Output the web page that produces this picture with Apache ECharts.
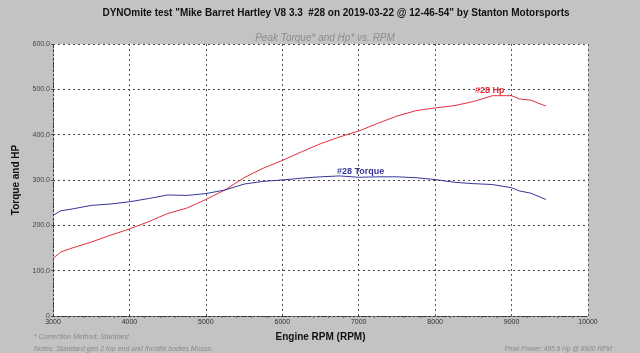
<!DOCTYPE html>
<html>
<head>
<meta charset="utf-8">
<script src="https://cdn.jsdelivr.net/npm/echarts@6/dist/echarts.min.js"></script>
<style>
    html, body { margin: 0; padding: 0; }
    #dyno { width: 640px; height: 353px; }
</style>
</head>
<body>
<div id="dyno"></div>
<script>
    // engine speed samples (RPM)
    var rpm = [3000, 3100, 3250, 3500, 3750, 4000, 4250, 4500, 4750, 5000, 5250, 5500, 5750, 6000, 6250,
        6500, 6750, 7000, 7250, 7500, 7750, 8000, 8250, 8500, 8750, 9000, 9100, 9250, 9450];
    // #28 Hp
    var hp = [127, 141, 150, 163, 178, 192, 208, 226, 238, 257, 278, 305, 326, 343, 362,
        380, 395, 408, 425, 441, 453, 459, 464, 473, 486, 486, 479, 476, 463];
    // #28 Torque
    var torque = [222, 232, 236, 244, 247, 252, 259, 267, 266, 270, 278, 291, 297, 300, 304,
        307, 309, 306, 307, 307, 305, 301, 295, 292, 290, 283, 276, 271, 257];
    var yTicks = [0, 100, 200, 300, 400, 500, 600];
    var xTicks = [3000, 4000, 5000, 6000, 7000, 8000, 9000, 10000];

    function pairs(ys) {
        return rpm.map(function (r, i) { return [r, ys[i]]; });
    }

    var chart = echarts.init(document.getElementById('dyno'));
    var font = 'Liberation Sans, Arial, sans-serif';
    var option = {
        backgroundColor: '#c3c3c3',
        animation: false,
        title: [{
            text: 'DYNOmite test "Mike Barret Hartley V8 3.3  #28 on 2019-03-22 @ 12-46-54" by Stanton Motorsports',
            left: 331, top: 3, textAlign: 'center',
            textStyle: { fontFamily: font, fontSize: 10, fontWeight: 'bold', color: '#111' }
        }, {
            text: 'Peak Torque* and Hp* vs. RPM',
            left: 320, top: 28, textAlign: 'center',
            textStyle: { fontFamily: font, fontSize: 10, fontStyle: 'italic', fontWeight: 'normal', color: '#8e8e8e' }
        }],
        graphic: [{
            type: 'text', left: 34, top: 334,
            style: { text: '* Correction Method: Standard', font: 'italic 7px ' + font, fill: '#8a8a8a' }
        }, {
            type: 'text', left: 34, top: 346,
            style: { text: 'Notes: Standard gen 2 top end and throttle bodies Mosso.', font: 'italic 7px ' + font, fill: '#8a8a8a' }
        }, {
            type: 'text', right: 28, top: 346,
            style: { text: 'Peak Power: 485.9 Hp @ 8900 RPM', font: 'italic 6.6px ' + font, fill: '#8a8a8a' }
        }],
        grid: {
            left: 53, right: 52, top: 44, bottom: 37,
            show: true, backgroundColor: '#fff', borderWidth: 0
        },
        xAxis: {
            type: 'value', min: 3000, max: 10000, interval: 1000,
            name: 'Engine RPM (RPM)', nameLocation: 'middle', nameGap: 16,
            nameTextStyle: { fontFamily: font, fontSize: 10, fontWeight: 'bold', color: '#111' },
            axisLine: { lineStyle: { color: '#333', type: [2, 2], width: 1 } },
            axisTick: { show: false },
            minorTick: { show: true, splitNumber: 5, length: 2, lineStyle: { color: '#666' } },
            axisLabel: {
                fontFamily: font, fontSize: 7, color: '#333', margin: 3,
                formatter: function (v) { return xTicks.indexOf(v) >= 0 ? String(v) : ''; }
            },
            splitLine: { show: true, lineStyle: { color: '#555', type: [2, 3], width: 1 } }
        },
        yAxis: {
            type: 'value', min: 0, max: 600, interval: 100,
            name: 'Torque and HP', nameLocation: 'middle', nameGap: 20,
            nameTextStyle: { fontFamily: font, fontSize: 10, fontWeight: 'bold', color: '#111' },
            axisLine: { show: true, lineStyle: { color: '#333', type: [2, 2], width: 1 } },
            axisTick: { show: true, length: 2, lineStyle: { color: '#555' } },
            axisLabel: {
                fontFamily: font, fontSize: 7, color: '#444', margin: 3,
                formatter: function (v) { return yTicks.indexOf(v) > 0 ? v.toFixed(1) : String(v); }
            },
            splitLine: { show: true, lineStyle: { color: '#444', type: [2, 3], width: 1 } }
        },
        series: [{
            name: '#28 Hp', type: 'line', data: pairs(hp), showSymbol: false,
            lineStyle: { color: '#e2303c', width: 1 },
            markPoint: {
                symbol: 'circle', symbolSize: 1,
                itemStyle: { color: 'rgba(0,0,0,0)' },
                label: { show: true, position: 'inside', formatter: '#28 Hp', fontFamily: font, fontSize: 9, fontWeight: 'bold', color: '#e2303c' },
                data: [{ coord: [8714, 497] }]
            }
        }, {
            name: '#28 Torque', type: 'line', data: pairs(torque), showSymbol: false,
            lineStyle: { color: '#35359a', width: 1 },
            markPoint: {
                symbol: 'circle', symbolSize: 1,
                itemStyle: { color: 'rgba(0,0,0,0)' },
                label: { show: true, position: 'inside', formatter: '#28 Torque', fontFamily: font, fontSize: 9, fontWeight: 'bold', color: '#35359a' },
                data: [{ coord: [7024, 319] }]
            }
        }]
    };
    chart.setOption(option);
</script>
</body>
</html>
